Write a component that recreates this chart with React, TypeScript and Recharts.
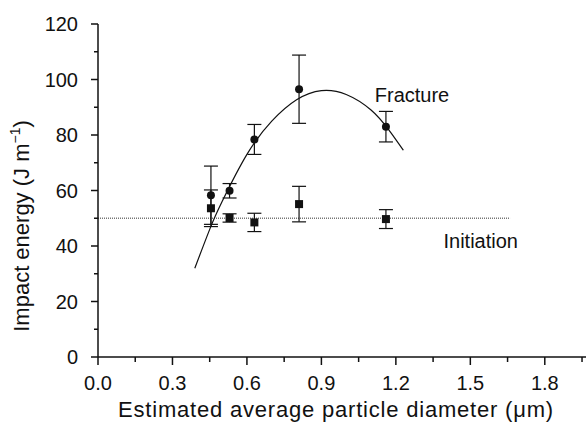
import { ComposedChart, XAxis, YAxis, Scatter, Line, ErrorBar, ReferenceDot } from 'recharts';

const diameters = [0.455, 0.53, 0.63, 0.81, 1.16];
const fractureEnergy = [58.3, 59.9, 78.4, 96.5, 83.0];
const fractureErr = [10.5, 2.6, 5.4, 12.3, 5.5];
const initiationEnergy = [53.6, 50.1, 48.5, 55.1, 49.7];
const initiationErr = [6.6, 1.5, 3.3, 6.4, 3.4];

// fitted curve through fracture points (traced)
const fitX = [0.39, 0.45, 0.5, 0.6, 0.7, 0.8, 0.9, 1.0, 1.1, 1.17, 1.23];
const fitY = [32, 46, 56, 73, 85, 92.7, 96, 94.6, 89, 82, 74.5];

// initiation level
const initX = [0, 1.66];
const initY = [50, 50];

const xTicks = [0, 0.15, 0.3, 0.45, 0.6, 0.75, 0.9, 1.05, 1.2, 1.35, 1.5, 1.65, 1.8, 1.95];
const yTicks = [0, 10, 20, 30, 40, 50, 60, 70, 80, 90, 100, 110, 120];

const fracture = diameters.map((x, i) => ({ x, y: fractureEnergy[i], err: fractureErr[i] }));
const initiation = diameters.map((x, i) => ({ x, y: initiationEnergy[i], err: initiationErr[i] }));
const fit = fitX.map((x, i) => ({ x, y: fitY[i] }));
const initLine = initX.map((x, i) => ({ x, y: initY[i] }));

const INK = '#111';

const XTick = ({ x, y, payload }: any) => {
  const major = Math.round(payload.value * 100) % 30 === 0;
  return (
    <g>
      <line x1={x} y1={y} x2={x} y2={y + (major ? 8 : 5)} stroke={INK} strokeWidth={1.5} />
      {major && (
        <text x={x} y={y + 33} textAnchor="middle" fontSize={20} fill={INK}>
          {payload.value.toFixed(1)}
        </text>
      )}
    </g>
  );
};

const YTick = ({ x, y, payload }: any) => {
  const major = payload.value % 20 === 0;
  return (
    <g>
      <line x1={x - (major ? 7 : 4)} y1={y} x2={x} y2={y} stroke={INK} strokeWidth={1.5} />
      {major && (
        <text x={x - 20} y={y + 7} textAnchor="end" fontSize={20} fill={INK}>
          {payload.value}
        </text>
      )}
    </g>
  );
};

const circle = (p: any) => <circle cx={p.cx} cy={p.cy} r={4} fill={INK} />;
const square = (p: any) => <rect x={p.cx - 4} y={p.cy - 4} width={8} height={8} fill={INK} />;

export default function App() {
  return (
    <div style={{ position: 'absolute', left: 0, top: 0, fontFamily: '"Liberation Sans", Arial, sans-serif' }}>
      <ComposedChart width={586} height={423} margin={{ top: 24, right: 0, bottom: 0, left: 0 }}>
        <XAxis
          type="number"
          dataKey="x"
          domain={[0, 1.966]}
          ticks={xTicks}
          interval={0}
          height={66}
          tickSize={0}
          tickMargin={0}
          tickLine={false}
          tick={XTick}
          stroke={INK}
          strokeWidth={1.5}
          label={{
            content: () => (
              <text x={336} y={417} textAnchor="middle" fontSize={22} letterSpacing={0.8} fill={INK}>
                Estimated average particle diameter (μm)
              </text>
            ),
          }}
        />
        <YAxis
          type="number"
          dataKey="y"
          domain={[0, 120]}
          ticks={yTicks}
          interval={0}
          width={98}
          tickSize={0}
          tickMargin={0}
          tickLine={false}
          tick={YTick}
          stroke={INK}
          strokeWidth={1.5}
          label={{
            content: () => (
              <text x={29} y={226} transform="rotate(-90, 29, 226)" textAnchor="middle" fontSize={22} fill={INK}>
                Impact energy (J m<tspan dy={-9} fontSize={14}>−1</tspan>
                <tspan dy={9}>)</tspan>
              </text>
            ),
          }}
        />
        <Line
          data={initLine}
          dataKey="y"
          type="linear"
          stroke="#777"
          strokeWidth={1.5}
          strokeDasharray="1 1"
          dot={false}
          activeDot={false}
          isAnimationActive={false}
        />
        <Line
          data={fit}
          dataKey="y"
          type="natural"
          stroke={INK}
          strokeWidth={1.2}
          dot={false}
          activeDot={false}
          isAnimationActive={false}
        />
        <Scatter data={fracture} dataKey="y" shape={circle} isAnimationActive={false}>
          <ErrorBar dataKey="err" direction="y" width={7} stroke={INK} strokeWidth={1.2} />
        </Scatter>
        <Scatter data={initiation} dataKey="y" shape={square} isAnimationActive={false}>
          <ErrorBar dataKey="err" direction="y" width={7} stroke={INK} strokeWidth={1.2} />
        </Scatter>
        <ReferenceDot
          x={1.265}
          y={94.4}
          r={0}
          fill="none"
          stroke="none"
          label={{ value: 'Fracture', position: 'center', fontSize: 20, fill: INK }}
        />
        <ReferenceDot
          x={1.542}
          y={41.8}
          r={0}
          fill="none"
          stroke="none"
          label={{ value: 'Initiation', position: 'center', fontSize: 20, fill: INK }}
        />
      </ComposedChart>
    </div>
  );
}
